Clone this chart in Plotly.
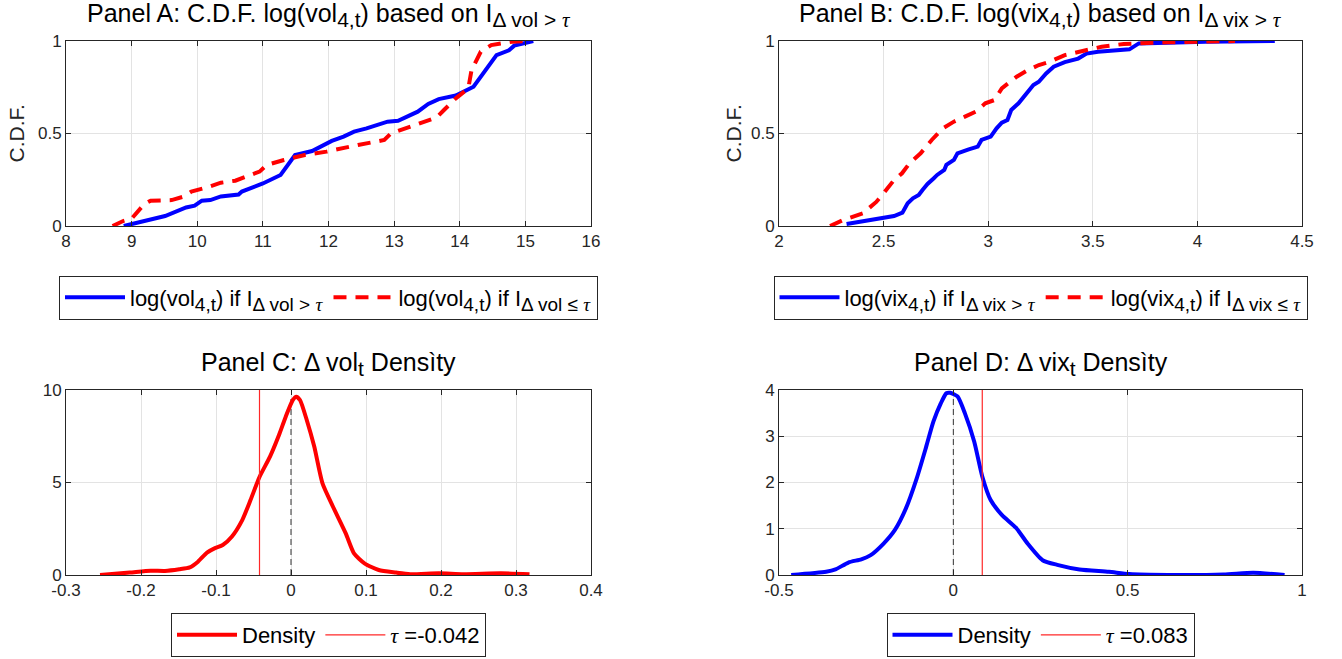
import plotly.graph_objects as go

# ---- Panel A: empirical CDF of log(vol_4,t) split by the Δvol threshold ----
vol_hi_x = [8.88, 9.51, 9.83, 9.96, 10.07, 10.2, 10.36, 10.63, 10.68, 11.0, 11.27, 11.38,
            11.49, 11.75, 12.05, 12.23, 12.39, 12.58, 12.9, 13.06, 13.36, 13.52, 13.68,
            13.94, 14.1, 14.21, 14.56, 14.75, 14.83, 15.12]
vol_hi_y = [0.0, 0.054, 0.10, 0.11, 0.137, 0.14, 0.16, 0.17, 0.186, 0.23, 0.276, 0.33,
            0.384, 0.405, 0.46, 0.483, 0.51, 0.528, 0.564, 0.569, 0.618, 0.66, 0.686,
            0.705, 0.73, 0.753, 0.924, 0.95, 0.975, 1.0]
vol_lo_x = [8.71, 8.87, 9.0, 9.19, 9.29, 9.61, 9.8, 9.91, 10.15, 10.36, 10.58, 10.95,
            11.06, 11.32, 11.64, 11.97, 12.45, 12.85, 12.95, 13.17, 13.49, 13.65, 13.76,
            13.94, 14.13, 14.18, 14.32, 14.48, 14.8, 15.07]
vol_lo_y = [0.0, 0.027, 0.04, 0.117, 0.137, 0.14, 0.16, 0.186, 0.209, 0.234, 0.245, 0.294,
            0.33, 0.357, 0.384, 0.402, 0.438, 0.465, 0.50, 0.528, 0.564, 0.587, 0.627,
            0.69, 0.744, 0.843, 0.942, 0.978, 0.996, 1.0]

# ---- Panel B: empirical CDF of log(vix_4,t) split by the Δvix threshold ----
vix_hi_x = [2.323, 2.43, 2.55, 2.59, 2.615, 2.64, 2.668, 2.686, 2.71, 2.74, 2.756, 2.79,
            2.80, 2.836, 2.853, 2.907, 2.95, 2.968, 3.012, 3.04, 3.065, 3.092, 3.11, 3.145,
            3.18, 3.216, 3.242, 3.277, 3.313, 3.366, 3.43, 3.47, 3.525, 3.675, 3.72, 3.86,
            4.04, 4.37]
vix_hi_y = [0.011, 0.029, 0.054, 0.072, 0.123, 0.15, 0.168, 0.195, 0.227, 0.258, 0.276,
            0.303, 0.33, 0.357, 0.393, 0.414, 0.429, 0.465, 0.483, 0.528, 0.559, 0.573,
            0.627, 0.663, 0.708, 0.762, 0.78, 0.825, 0.861, 0.886, 0.905, 0.932, 0.942,
            0.955, 0.987, 0.993, 0.996, 1.0]
vix_lo_x = [2.244, 2.306, 2.40, 2.465, 2.50, 2.544, 2.588, 2.624, 2.677, 2.73, 2.783, 2.836,
            2.889, 2.94, 2.986, 3.03, 3.065, 3.136, 3.19, 3.242, 3.295, 3.366, 3.436,
            3.542, 3.648, 3.86, 4.18]
vix_lo_y = [0.0, 0.032, 0.068, 0.13, 0.177, 0.24, 0.285, 0.339, 0.393, 0.465, 0.528, 0.564,
            0.591, 0.618, 0.663, 0.681, 0.744, 0.807, 0.843, 0.87, 0.888, 0.924, 0.942,
            0.969, 0.984, 0.993, 1.0]

# ---- Panel C: kernel density of Δvol_t ----
dvol_x = [-0.2546, -0.215, -0.187, -0.168, -0.149, -0.135, -0.124, -0.112, -0.102, -0.091,
          -0.079, -0.065, -0.054, -0.042, -0.028, -0.016, -0.007, 0.0025, 0.007, 0.012,
          0.021, 0.031, 0.042, 0.056, 0.073, 0.084, 0.098, 0.117, 0.14, 0.159, 0.197,
          0.23, 0.28, 0.318]
dvol_d = [0.0, 0.13, 0.23, 0.22, 0.31, 0.41, 0.72, 1.21, 1.44, 1.62, 2.07, 2.97, 4.05, 5.3,
          6.4, 7.57, 8.56, 9.46, 9.64, 9.46, 8.38, 6.94, 4.95, 3.69, 2.25, 1.17, 0.63,
          0.27, 0.13, 0.04, 0.09, 0.04, 0.09, 0.04]
tau_vol = -0.042

# ---- Panel D: kernel density of Δvix_t ----
dvix_x = [-0.465, -0.365, -0.338, -0.301, -0.264, -0.237, -0.2, -0.168, -0.136, -0.105,
          -0.078, -0.057, -0.036, -0.02, -0.009, 0.012, 0.033, 0.06, 0.083, 0.107, 0.139,
          0.181, 0.213, 0.256, 0.298, 0.362, 0.446, 0.505, 0.616, 0.775, 0.86, 0.95]
dvix_d = [0.0, 0.07, 0.12, 0.27, 0.34, 0.43, 0.68, 0.97, 1.44, 2.09, 2.77, 3.32, 3.71, 3.93,
          3.94, 3.86, 3.5, 2.88, 2.13, 1.62, 1.30, 1.01, 0.68, 0.32, 0.22, 0.12, 0.07,
          0.02, 0.0, 0.01, 0.05, 0.0]
tau_vix = 0.083

# ---- axis ticks ----
a_xticks = [8, 9, 10, 11, 12, 13, 14, 15, 16]
b_xticks = [2, 2.5, 3, 3.5, 4, 4.5]
cdf_yticks = [0, 0.5, 1]
c_xticks = [-0.3, -0.2, -0.1, 0, 0.1, 0.2, 0.3, 0.4]
c_yticks = [0, 5, 10]
d_xticks = [-0.5, 0, 0.5, 1]
d_yticks = [0, 1, 2, 3, 4]

W, H = 1342, 659
FONT = "Liberation Sans, Arial, Helvetica, sans-serif"
SERIF = "Liberation Serif, Times New Roman, serif"
INK = "#262626"
BLUE = "#0000ff"
RED = "#ff0000"
TAU_RED = "rgb(255,40,40)"
LW = 4

LEG_SIZE, LEG_SUB = 22, 19
TTL_SIZE, TTL_SUB = 25, 21


def fmt(v):
    return "%g" % v


def px_x(p):
    return p / W


def px_y(p):
    return 1 - p / H


def sub(txt, size):
    return '<sub><span style="font-size:%dpx">%s</span></sub>' % (size, txt)


def tau():
    return '<span style="font-family:%s"><i>τ</i></span>' % SERIF


def cdf_label(var, rel, size):
    return "log(%s%s) if I%s" % (var, sub("4,t", size), sub("Δ %s %s %s" % (var, rel, tau()), size))


fig = go.Figure()

# Panel A
fig.add_trace(go.Scatter(x=vol_hi_x, y=vol_hi_y, mode="lines", xaxis="x", yaxis="y",
                         line=dict(color=BLUE, width=LW), legend="legend",
                         name=cdf_label("vol", "&gt;", LEG_SUB)))
fig.add_trace(go.Scatter(x=vol_lo_x, y=vol_lo_y, mode="lines", xaxis="x", yaxis="y",
                         line=dict(color=RED, width=LW, dash="13px,9px"), legend="legend",
                         name=cdf_label("vol", "≤", LEG_SUB)))

# Panel B
fig.add_trace(go.Scatter(x=vix_hi_x, y=vix_hi_y, mode="lines", xaxis="x2", yaxis="y2",
                         line=dict(color=BLUE, width=LW), legend="legend2",
                         name=cdf_label("vix", "&gt;", LEG_SUB)))
fig.add_trace(go.Scatter(x=vix_lo_x, y=vix_lo_y, mode="lines", xaxis="x2", yaxis="y2",
                         line=dict(color=RED, width=LW, dash="13px,9px"), legend="legend2",
                         name=cdf_label("vix", "≤", LEG_SUB)))

# Panel C
fig.add_trace(go.Scatter(x=[0, 0], y=[0, max(dvol_d)], mode="lines", xaxis="x3", yaxis="y3",
                         line=dict(color="#333333", width=1, dash="6px,4px"), showlegend=False))
fig.add_trace(go.Scatter(x=dvol_x, y=dvol_d, mode="lines", xaxis="x3", yaxis="y3",
                         line=dict(color=RED, width=LW, shape="spline", smoothing=0.6),
                         legend="legend3", name="Density"))
fig.add_trace(go.Scatter(x=[tau_vol, tau_vol], y=[c_yticks[0], c_yticks[-1]], mode="lines",
                         xaxis="x3", yaxis="y3", line=dict(color=TAU_RED, width=1.2),
                         legend="legend3", name=tau() + " =%s" % fmt(tau_vol)))

# Panel D
fig.add_trace(go.Scatter(x=[0, 0], y=[0, max(dvix_d)], mode="lines", xaxis="x4", yaxis="y4",
                         line=dict(color="#333333", width=1, dash="6px,4px"), showlegend=False))
fig.add_trace(go.Scatter(x=dvix_x, y=dvix_d, mode="lines", xaxis="x4", yaxis="y4",
                         line=dict(color=BLUE, width=LW, shape="spline", smoothing=0.6),
                         legend="legend4", name="Density"))
fig.add_trace(go.Scatter(x=[tau_vix, tau_vix], y=[d_yticks[0], d_yticks[-1]], mode="lines",
                         xaxis="x4", yaxis="y4", line=dict(color=TAU_RED, width=1.2),
                         legend="legend4", name=tau() + " =%s" % fmt(tau_vix)))


def axis(domain, ticks, anchor):
    return dict(domain=domain, range=[ticks[0], ticks[-1]], tickvals=ticks,
                ticktext=[fmt(t) for t in ticks], anchor=anchor,
                showline=True, linecolor=INK, linewidth=1, mirror="allticks",
                ticks="inside", ticklen=5, tickcolor=INK, tickwidth=1,
                showgrid=True, gridcolor="#e3e3e3", gridwidth=1, zeroline=False,
                tickfont=dict(family=FONT, size=17, color=INK), fixedrange=True,
                automargin=False)


# plot-area edges in pixels
LEFT_COL = (66, 591)
RIGHT_COL = (779, 1302)
TOP_ROW = (41, 226)
BOTTOM_ROW = (390, 575)

xl = [px_x(LEFT_COL[0]), px_x(LEFT_COL[1])]
xr = [px_x(RIGHT_COL[0]), px_x(RIGHT_COL[1])]
yt = [px_y(TOP_ROW[1]), px_y(TOP_ROW[0])]
yb = [px_y(BOTTOM_ROW[1]), px_y(BOTTOM_ROW[0])]

fig.update_layout(
    xaxis=axis(xl, a_xticks, "y"), yaxis=axis(yt, cdf_yticks, "x"),
    xaxis2=axis(xr, b_xticks, "y2"), yaxis2=axis(yt, cdf_yticks, "x2"),
    xaxis3=axis(xl, c_xticks, "y3"), yaxis3=axis(yb, c_yticks, "x3"),
    xaxis4=axis(xr, d_xticks, "y4"), yaxis4=axis(yb, d_yticks, "x4"),
)

lc = sum(LEFT_COL) / 2
rc = sum(RIGHT_COL) / 2


def legend(cx, cy):
    return dict(orientation="h", x=cx / W, xanchor="center", y=1 - cy / H, yanchor="middle",
                xref="container", yref="container",
                bordercolor=INK, borderwidth=1, bgcolor="white", itemwidth=60,
                font=dict(family=FONT, size=LEG_SIZE, color="black"), tracegroupgap=0,
                itemclick=False, itemdoubleclick=False)


fig.update_layout(legend=legend(lc, 297.5), legend2=legend(rc, 297.5),
                  legend3=legend(lc, 635), legend4=legend(rc, 635))

titles = [
    ("Panel A: C.D.F. log(vol" + sub("4,t", TTL_SUB) + ") based on I" + sub("Δ vol &gt; " + tau(), TTL_SUB), lc, -3),
    ("Panel B: C.D.F. log(vix" + sub("4,t", TTL_SUB) + ") based on I" + sub("Δ vix &gt; " + tau(), TTL_SUB), rc, -3),
    ("Panel C: Δ vol" + sub("t", TTL_SUB) + " Densìty", lc, 346),
    ("Panel D: Δ vix" + sub("t", TTL_SUB) + " Densìty", rc, 346),
]
ann = []
for txt, cx, top in titles:
    ann.append(dict(text=txt, x=px_x(cx), y=px_y(top), xref="paper", yref="paper",
                    xanchor="center", yanchor="top", showarrow=False,
                    font=dict(family=FONT, size=TTL_SIZE, color="black")))
for cx in (16, 733):
    ann.append(dict(text="C.D.F.", x=px_x(cx), y=px_y(sum(TOP_ROW) / 2), xref="paper",
                    yref="paper", xanchor="center", yanchor="middle", showarrow=False,
                    textangle=-90, font=dict(family=FONT, size=21, color=INK)))

fig.update_layout(annotations=ann, width=W, height=H,
                  margin=dict(l=0, r=0, t=0, b=0, autoexpand=False),
                  paper_bgcolor="white", plot_bgcolor="white")

fig.write_html("out.html", config={"displayModeBar": False})
